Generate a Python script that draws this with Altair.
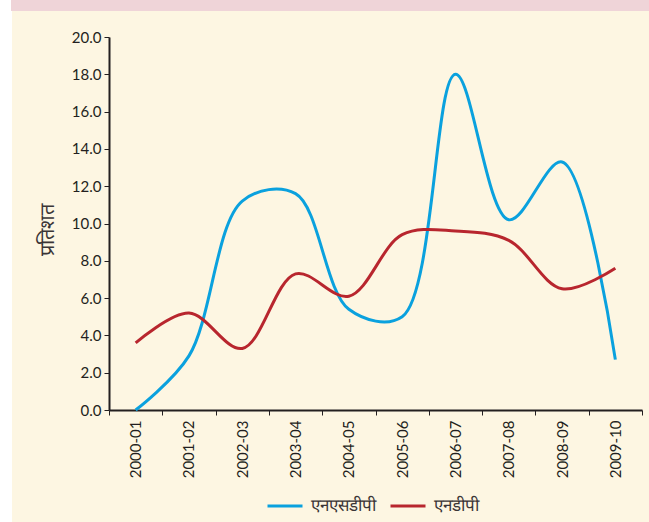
import altair as alt
import pandas as pd

years = ["2000-01", "2001-02", "2002-03", "2003-04", "2004-05",
         "2005-06", "2006-07", "2007-08", "2008-09", "2009-10"]
nsdp = [0.0, 2.9, 11.2, 11.6, 5.4, 5.0, 18.0, 10.2, 13.3, 2.7]
ndp = [3.6, 5.2, 3.3, 7.3, 6.1, 9.4, 9.6, 9.1, 6.5, 7.6]
series_names = ["एनएसडीपी", "एनडीपी"]
series_colors = ["#0aa1de", "#b8262e"]
y_ticks = [0, 2, 4, 6, 8, 10, 12, 14, 16, 18, 20]

rows = []
for name, vals in zip(series_names, [nsdp, ndp]):
    for yr, v in zip(years, vals):
        rows.append({"year": yr, "value": v, "series": name})
df = pd.DataFrame(rows)

INK = "#231f20"
FONT = "Lato"

lines = alt.Chart(df).mark_line(
    interpolate="catmull-rom", strokeWidth=3
).encode(
    x=alt.X("year:O", sort=years, bandPosition=0.5,
            scale=alt.Scale(type="band", paddingInner=0, paddingOuter=0),
            axis=alt.Axis(title=None, labelAngle=-90, tickBand="extent",
                          labelAlign="right", labelBaseline="middle",
                          labelPadding=5, tickSize=5)),
    y=alt.Y("value:Q", scale=alt.Scale(domain=[0, 20], nice=False),
            axis=alt.Axis(title="प्रतिशत", values=y_ticks, format=".1f",
                          grid=False, tickSize=5, labelPadding=3,
                          titleAngle=-90, titleX=-62, titleY=192,
                          titleAlign="center", titleBaseline="middle",
                          titleFontSize=20, titleFontWeight="normal",
                          titleColor="#3a3536")),
    color=alt.Color("series:N", sort=series_names,
                    scale=alt.Scale(domain=series_names, range=series_colors),
                    legend=alt.Legend(title=None, orient="none",
                                      direction="horizontal",
                                      legendX=157, legendY=450,
                                      symbolType="stroke", symbolSize=1225,
                                      symbolStrokeWidth=3,
                                      labelFontSize=17, labelColor="#3a3536",
                                      labelFont=FONT, columnPadding=8,
                                      labelOffset=7)),
)

frame = alt.Data(values=[{"k": 1}])
white_strip = alt.Chart(frame).mark_rect(color="#ffffff").encode(
    x=alt.value(-109), x2=alt.value(-97), y=alt.value(-37), y2=alt.value(485)
)
pink_strip = alt.Chart(frame).mark_rect(color="#efd4d8").encode(
    x=alt.value(-98), x2=alt.value(540), y=alt.value(-37), y2=alt.value(-26)
)

chart = alt.layer(white_strip, pink_strip, lines).properties(
    width=533, height=373,
    autosize=alt.AutoSizeParams(type="none"),
    padding={"left": 109, "top": 37, "right": 7, "bottom": 112},
    background="#fdf6e2",
).configure_view(stroke=None).configure_axis(
    domainColor=INK, domainWidth=2, tickColor=INK, tickWidth=1,
    labelColor=INK, labelFontSize=15, labelFont=FONT, titleFont=FONT,
)

chart.save("out.html", embed_options={"renderer": "svg", "actions": False})
